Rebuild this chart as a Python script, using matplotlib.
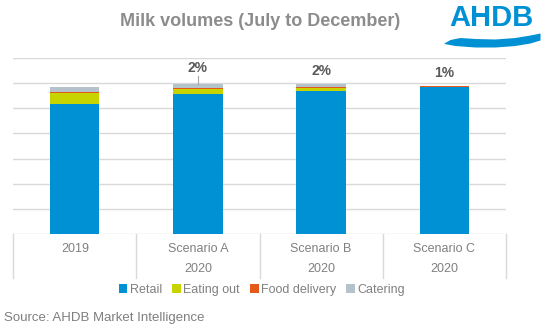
import numpy as np
import matplotlib.pyplot as plt

plt.rcParams['font.family'] = ['Liberation Sans', 'DejaVu Sans']

# stacked volumes (gridline units)
groups = ['2019', 'Scenario A', 'Scenario B', 'Scenario C']
years = ['', '2020', '2020', '2020']
retail = [5.18, 5.58, 5.70, 5.83]
eating_out = [0.42, 0.19, 0.12, 0.01]
food_delivery = [0.03, 0.04, 0.01, 0.03]
catering = [0.22, 0.17, 0.12, 0.03]

series = ['Retail', 'Eating out', 'Food delivery', 'Catering']
colours = ['#0090D4', '#C8D400', '#E35A1A', '#B4C3CB']

W, H = 550, 327
fig = plt.figure(figsize=(W / 100, H / 100), dpi=100)
ax = fig.add_axes([13.3 / W, 1 - 234 / H, (505.7 - 13.3) / W, (234 - 58) / H])

x = np.arange(len(groups))
bottom = np.zeros(len(groups))
for name, vals, c in zip(series, [retail, eating_out, food_delivery, catering], colours):
    ax.bar(x, vals, width=0.4, bottom=bottom, color=c, label=name, zorder=3)
    bottom += np.array(vals)

totals = bottom
ax.set_xlim(-0.5, 3.5)
ax.set_ylim(0, 7)
ax.set_yticks(np.arange(1, 8))
ax.yaxis.grid(True, color='#D9D9D9', lw=1)
ax.tick_params(left=False, labelleft=False, bottom=False, labelbottom=False)
for s in ax.spines.values():
    s.set_visible(False)
ax.axhline(0, color='#D9D9D9', lw=1, zorder=2)

# category axis with separators and two label rows
trans = ax.get_xaxis_transform()
for xs in np.arange(-0.5, 4, 1):
    ax.plot([xs, xs], [0, -0.248], color='#D9D9D9', lw=1, transform=trans, clip_on=False)
for i in range(len(groups)):
    ax.text(i, -0.085, groups[i], transform=trans, ha='center', va='center',
            fontsize=9, color='#808080')
    ax.text(i, -0.199, years[i], transform=trans, ha='center', va='center',
            fontsize=9, color='#808080')

# change against 2019
label_y = [None, 6.61, 6.50, 6.42]
for i in range(1, len(groups)):
    pct = (totals[i] / totals[0] - 1) * 100
    ax.text(i, label_y[i], '%.0f%%' % pct, ha='center', va='center',
            fontsize=10, fontweight='bold', color='#595959')
ax.plot([1, 1], [6.28, totals[1]], color='#A6A6A6', lw=0.8, zorder=4)

fig.legend(loc='center', bbox_to_anchor=(262 / W, 1 - 290 / H), ncol=4, frameon=False,
           fontsize=9, labelcolor='#808080', handlelength=0.7, handleheight=0.7,
           handletextpad=0.2, columnspacing=0.8, borderpad=0)

fig.text(260 / W, 1 - 22 / H, 'Milk volumes (July to December)', ha='center',
         va='center', fontsize=13, fontweight='bold', color='#8C8C8C')
fig.text(4 / W, 1 - 318 / H, 'Source: AHDB Market Intelligence', ha='left',
         va='center', fontsize=9.5, color='#7F7F7F')

# logo
lg = fig.add_axes([0, 0, 1, 1], zorder=5)
lg.set_xlim(0, W)
lg.set_ylim(H, 0)
lg.axis('off')
lg.text(491, 18.5, 'AHDB', ha='center', va='center', fontsize=21, fontweight='bold',
        color='#0090D4')
xw = np.linspace(444, 540, 100)
top = np.interp(xw, [444, 450, 460, 475, 495, 515, 530, 540],
                [43, 39.5, 37.5, 38.5, 39, 37.5, 35, 33])
bot = np.interp(xw, [444, 455, 475, 495, 515, 530, 540],
                [43.5, 45.5, 47, 47, 45.5, 43, 40])
lg.fill_between(xw, top, bot, color='#0090D4', lw=0)

fig.savefig('out.png', dpi=100)
